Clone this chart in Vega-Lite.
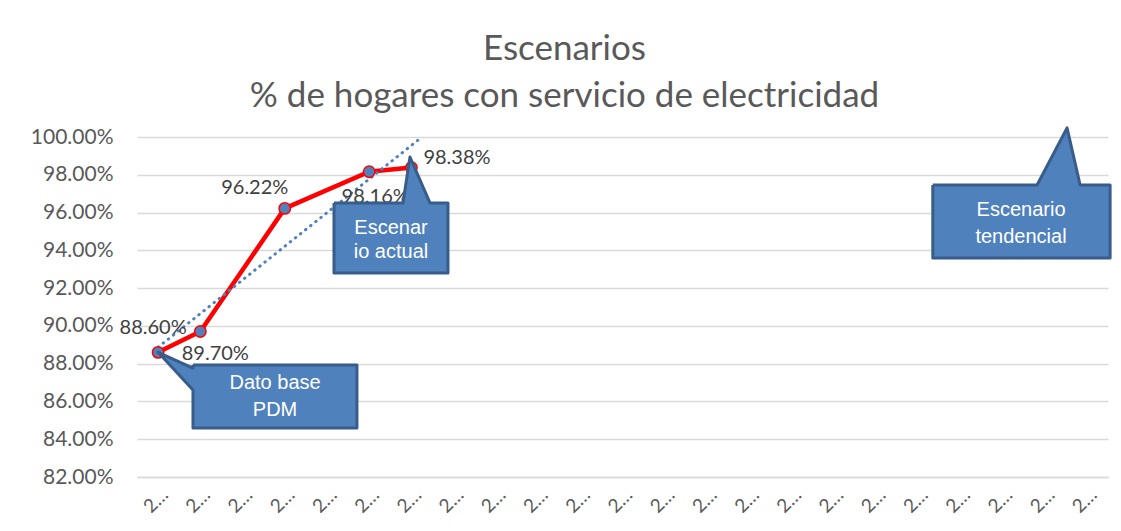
{
  "$schema": "https://vega.github.io/schema/vega-lite/v6.json",
  "autosize": {"type": "none"},
  "width": 971,
  "height": 340,
  "padding": {"left": 137, "top": 137, "right": 13, "bottom": 54},
  "background": "white",
  "title": {
    "text": ["Escenarios", "% de hogares con servicio de electricidad"],
    "font": "Lato",
    "fontSize": 35,
    "fontWeight": "normal",
    "color": "#595959",
    "anchor": "middle",
    "dx": -58,
    "lineHeight": 47,
    "offset": 12
  },
  "config": {
    "view": {"stroke": null},
    "axis": {"labelFont": "Lato", "labelColor": "#595959"}
  },
  "datasets": {
    "series": [
      {"x": 2016, "y": 0.886},
      {"x": 2017, "y": 0.897},
      {"x": 2019, "y": 0.9622},
      {"x": 2021, "y": 0.9816},
      {"x": 2022, "y": 0.9838}
    ],
    "trend": [
      {"x": 2016, "y": 0.8887},
      {"x": 2022.25, "y": 1.0}
    ],
    "callouts": [
      {"id": "a", "i": 0, "x": 2016.826, "y": 0.8793},
      {"id": "a", "i": 1, "x": 2020.71, "y": 0.8793},
      {"id": "a", "i": 2, "x": 2020.71, "y": 0.8459},
      {"id": "a", "i": 3, "x": 2016.826, "y": 0.8459},
      {"id": "a", "i": 4, "x": 2016.826, "y": 0.8661},
      {"id": "a", "i": 5, "x": 2016.0, "y": 0.886},
      {"id": "a", "i": 6, "x": 2016.826, "y": 0.8777},
      {"id": "a", "i": 7, "x": 2016.826, "y": 0.8793},
      {"id": "b", "i": 0, "x": 2020.166, "y": 0.9651},
      {"id": "b", "i": 1, "x": 2021.8, "y": 0.9651},
      {"id": "b", "i": 2, "x": 2021.966, "y": 0.9894},
      {"id": "b", "i": 3, "x": 2022.44, "y": 0.9651},
      {"id": "b", "i": 4, "x": 2022.866, "y": 0.9651},
      {"id": "b", "i": 5, "x": 2022.866, "y": 0.928},
      {"id": "b", "i": 6, "x": 2020.166, "y": 0.928},
      {"id": "b", "i": 7, "x": 2020.166, "y": 0.9651},
      {"id": "c", "i": 0, "x": 2034.35, "y": 0.9746},
      {"id": "c", "i": 1, "x": 2036.82, "y": 0.9746},
      {"id": "c", "i": 2, "x": 2037.53, "y": 1.0048},
      {"id": "c", "i": 3, "x": 2037.84, "y": 0.9746},
      {"id": "c", "i": 4, "x": 2038.55, "y": 0.9746},
      {"id": "c", "i": 5, "x": 2038.55, "y": 0.9359},
      {"id": "c", "i": 6, "x": 2034.35, "y": 0.9359},
      {"id": "c", "i": 7, "x": 2034.35, "y": 0.9746}
    ],
    "callout_text": [
      {"x": 2018.77, "y": 0.8698, "label": "Dato base"},
      {"x": 2018.77, "y": 0.8555, "label": "PDM"},
      {"x": 2021.516, "y": 0.9518, "label": "Escenar"},
      {"x": 2021.516, "y": 0.9391, "label": "io actual"},
      {"x": 2036.44, "y": 0.9614, "label": "Escenario"},
      {"x": 2036.44, "y": 0.9471, "label": "tendencial"}
    ]
  },
  "encoding": {
    "x": {
      "field": "x", "type": "quantitative",
      "scale": {"domain": [2015.5, 2038.5], "nice": false, "zero": false},
      "axis": {
        "title": null,
        "values": [2016, 2017, 2018, 2019, 2020, 2021, 2022, 2023, 2024, 2025, 2026, 2027, 2028, 2029, 2030, 2031, 2032, 2033, 2034, 2035, 2036, 2037, 2038],
        "format": "d",
        "labelAngle": -45,
        "labelLimit": 30,
        "labelFontSize": 19,
        "labelPadding": 8,
        "labelDx": 6,
        "labelOverlap": false,
        "grid": false,
        "ticks": false,
        "domain": true,
        "domainColor": "#D9D9D9",
        "domainWidth": 1.5
      }
    },
    "y": {
      "field": "y", "type": "quantitative",
      "scale": {"domain": [0.82, 1.0], "nice": false, "zero": false},
      "axis": {
        "title": null,
        "values": [0.82, 0.84, 0.86, 0.88, 0.9, 0.92, 0.94, 0.96, 0.98, 1.0],
        "format": ".2%",
        "labelFontSize": 21,
        "labelPadding": 24,
        "labelOverlap": false,
        "grid": true,
        "gridColor": "#D9D9D9",
        "gridWidth": 1.5,
        "ticks": false,
        "domain": false
      }
    }
  },
  "layer": [
    {
      "data": {"name": "series"},
      "mark": {"type": "line", "color": "#FF0000", "strokeWidth": 4.5}
    },
    {
      "data": {"name": "trend"},
      "mark": {"type": "line", "color": "#4F81BD", "strokeWidth": 3, "strokeDash": [0.5, 6], "strokeCap": "round"}
    },
    {
      "data": {"name": "series"},
      "mark": {"type": "point", "shape": "circle", "filled": true, "fill": "#4F81BD", "stroke": "#FF0000", "strokeWidth": 1.5, "size": 130, "opacity": 1}
    },
    {
      "data": {"name": "series"},
      "transform": [{"filter": "datum.x == 2016"}],
      "mark": {"type": "text", "font": "Lato", "fontSize": 20, "color": "#404040", "align": "center", "baseline": "middle", "dx": -5, "dy": -24},
      "encoding": {"text": {"field": "y", "type": "quantitative", "format": ".2%"}}
    },
    {
      "data": {"name": "series"},
      "transform": [{"filter": "datum.x == 2017"}],
      "mark": {"type": "text", "font": "Lato", "fontSize": 20, "color": "#404040", "align": "center", "baseline": "middle", "dx": 15, "dy": 22},
      "encoding": {"text": {"field": "y", "type": "quantitative", "format": ".2%"}}
    },
    {
      "data": {"name": "series"},
      "transform": [{"filter": "datum.x == 2019"}],
      "mark": {"type": "text", "font": "Lato", "fontSize": 20, "color": "#404040", "align": "center", "baseline": "middle", "dx": -30, "dy": -20},
      "encoding": {"text": {"field": "y", "type": "quantitative", "format": ".2%"}}
    },
    {
      "data": {"name": "series"},
      "transform": [{"filter": "datum.x == 2021"}],
      "mark": {"type": "text", "font": "Lato", "fontSize": 20, "color": "#404040", "align": "center", "baseline": "middle", "dx": 6, "dy": 25},
      "encoding": {"text": {"field": "y", "type": "quantitative", "format": ".2%"}}
    },
    {
      "data": {"name": "series"},
      "transform": [{"filter": "datum.x == 2022"}],
      "mark": {"type": "text", "font": "Lato", "fontSize": 20, "color": "#404040", "align": "left", "baseline": "middle", "dx": 12, "dy": -10},
      "encoding": {"text": {"field": "y", "type": "quantitative", "format": ".2%"}}
    },
    {
      "data": {"name": "callouts"},
      "mark": {"type": "line", "fill": "#4F81BD", "stroke": "#385D8A", "strokeWidth": 3, "strokeJoin": "round", "interpolate": "linear"},
      "encoding": {
        "detail": {"field": "id"},
        "order": {"field": "i", "type": "quantitative"}
      }
    },
    {
      "data": {"name": "callout_text"},
      "mark": {"type": "text", "font": "Liberation Sans", "fontSize": 20, "color": "white", "align": "center", "baseline": "middle"},
      "encoding": {"text": {"field": "label"}}
    }
  ]
}
